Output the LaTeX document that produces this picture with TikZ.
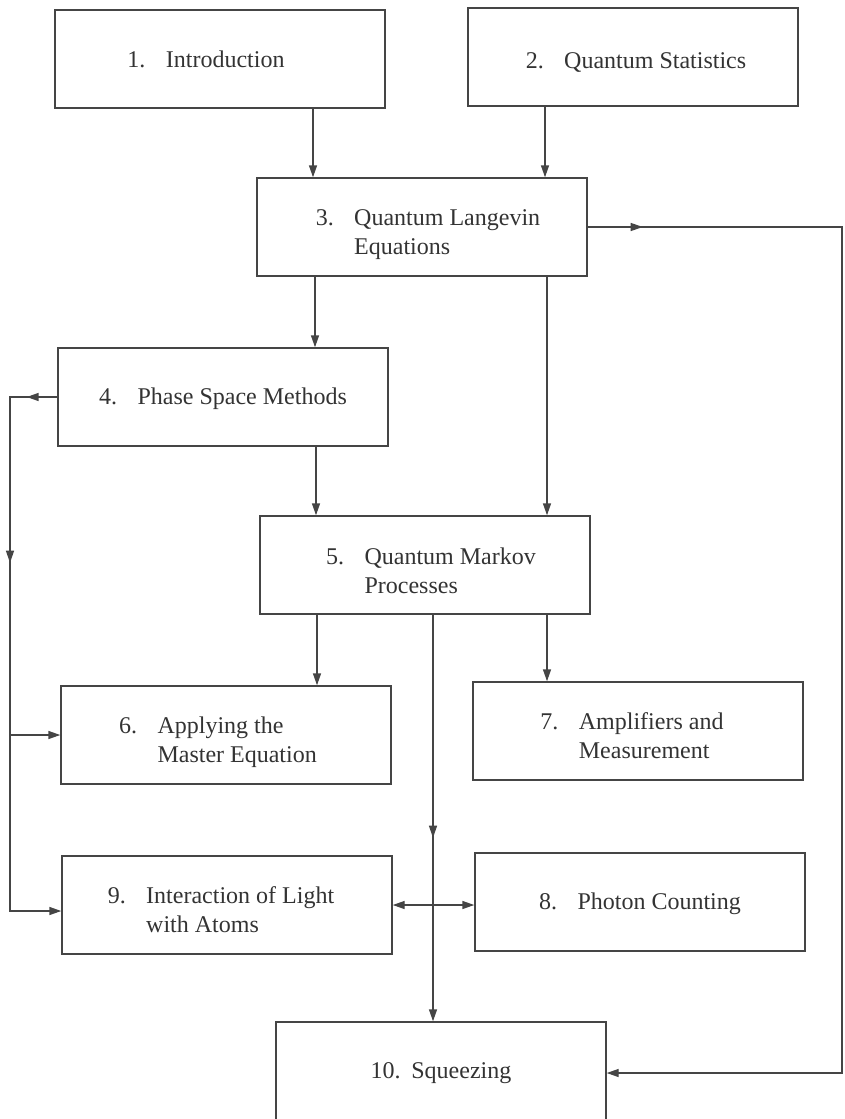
\documentclass[tikz,border=0pt]{standalone}
\usepackage{fontspec}
\setmainfont{Liberation Serif}
\usetikzlibrary{arrows.meta,decorations.markings}
\definecolor{ink}{HTML}{454545}
\definecolor{txt}{HTML}{333333}
\newcommand\twoline[3]{\begin{tabular}{@{}l@{\hspace{0.85em}}l@{}}#1 & #2\\ & #3\end{tabular}}
\newcommand\oneline[2]{#1\hspace{0.85em}#2}
\begin{document}
\begin{tikzpicture}[x=1pt,y=-1pt,
  box/.style={draw=ink,line width=1.4pt,minimum width=330pt,minimum height=98pt,inner sep=0pt,
    text=txt,font=\fontsize{24}{29}\selectfont},
  lab/.style={text=txt,font=\fontsize{24}{29}\selectfont,inner sep=0pt},
  conn/.style={draw=ink,line width=1.4pt},
  tip/.style={-{Triangle[length=12pt,width=8pt]}},
  midarrow/.style={postaction={decorate},decoration={markings,
    mark=at position #1 with {\arrow{Triangle[length=12pt,width=8pt]}}}}
]
\useasboundingbox (0,0) rectangle (844,1119);
\node[box] (n1) at (220,59) {};
\node[box] (n2) at (633,57) {};
\node[box] (n3) at (422,227) {};
\node[box] (n4) at (223,397) {};
\node[box] (n5) at (425,565) {};
\node[box] (n6) at (226,735) {};
\node[box] (n7) at (638,731) {};
\node[box] (n8) at (640,902) {};
\node[box] (n9) at (227,905) {};
\node[box] (n10) at (441,1071) {};

\node[lab] (t1) at ([xshift=-14pt]n1.center) {\oneline{1.}{Introduction}};
\node[lab] (t2) at ([xshift=3pt,yshift=-5pt]n2.center) {\oneline{2.}{Quantum Statistics}};
\node[lab] (t3) at ([xshift=6pt,yshift=-7pt]n3.center) {\twoline{3.}{Quantum Langevin}{Equations}};
\node[lab] (t4) at ([yshift=-2pt]n4.center) {\oneline{4.}{Phase Space Methods}};
\node[lab] (t5) at ([xshift=6pt,yshift=-8pt]n5.center) {\twoline{5.}{Quantum Markov}{Processes}};
\node[lab] (t6) at ([xshift=-8pt,yshift=-7pt]n6.center) {\twoline{6.}{Applying the}{Master Equation}};
\node[lab] (t7) at ([xshift=-6pt,yshift=-7pt]n7.center) {\twoline{7.}{Amplifiers and}{Measurement}};
\node[lab] (t8) at ([yshift=-2pt]n8.center) {\oneline{8.}{Photon Counting}};
\node[lab] (t9) at ([xshift=-6pt,yshift=-7pt]n9.center) {\twoline{9.}{Interaction of Light}{with Atoms}};
\node[lab] (t10) at ([yshift=-2pt]n10.center) {10.\hspace{0.45em}Squeezing};

\coordinate (r1) at (842,227);
\coordinate (r2) at (842,1073);
\coordinate (l1) at (10,397);
\coordinate (l2) at (10,911);
\coordinate (l6) at (10,735);

% top arrows
\draw[conn,tip] (313,0 |- n1.south) -- (313,0 |- n3.north);
\draw[conn,tip] (545,0 |- n2.south) -- (545,0 |- n3.north);
% 3 -> 4, 3 -> 5
\draw[conn,tip] (315,0 |- n3.south) -- (315,0 |- n4.north);
\draw[conn,tip] (547,0 |- n3.south) -- (547,0 |- n5.north);
% 4 -> 5
\draw[conn,tip] (316,0 |- n4.south) -- (316,0 |- n5.north);
% 5 -> 6, 5 -> 7
\draw[conn,tip] (317,0 |- n5.south) -- (317,0 |- n6.north);
\draw[conn,tip] (547,0 |- n5.south) -- (547,0 |- n7.north);
% 5 -> 10
\draw[conn,tip,midarrow=223pt] (433,0 |- n5.south) -- (433,0 |- n10.north);
% 9 <-> 8
\draw[conn,{Triangle[length=12pt,width=8pt]}-{Triangle[length=12pt,width=8pt]}] (n9.east |- 0,905) -- (n8.west |- 0,905);
% 3 -> 10 loop
\draw[conn,tip,midarrow=55pt] (n3.east) -- (r1) -- (r2) -- (n10.east |- r2);
% 4 loop
\draw[conn,tip,midarrow=0.05] (n4.west) -- (l1) -- (l2) -- (n9.west |- l2);
\draw[conn,draw=none,midarrow=213pt] (n4.west) -- (l1) -- (l2);
\draw[conn,tip] (l6) -- (n6.west |- l6);
\end{tikzpicture}
\end{document}
